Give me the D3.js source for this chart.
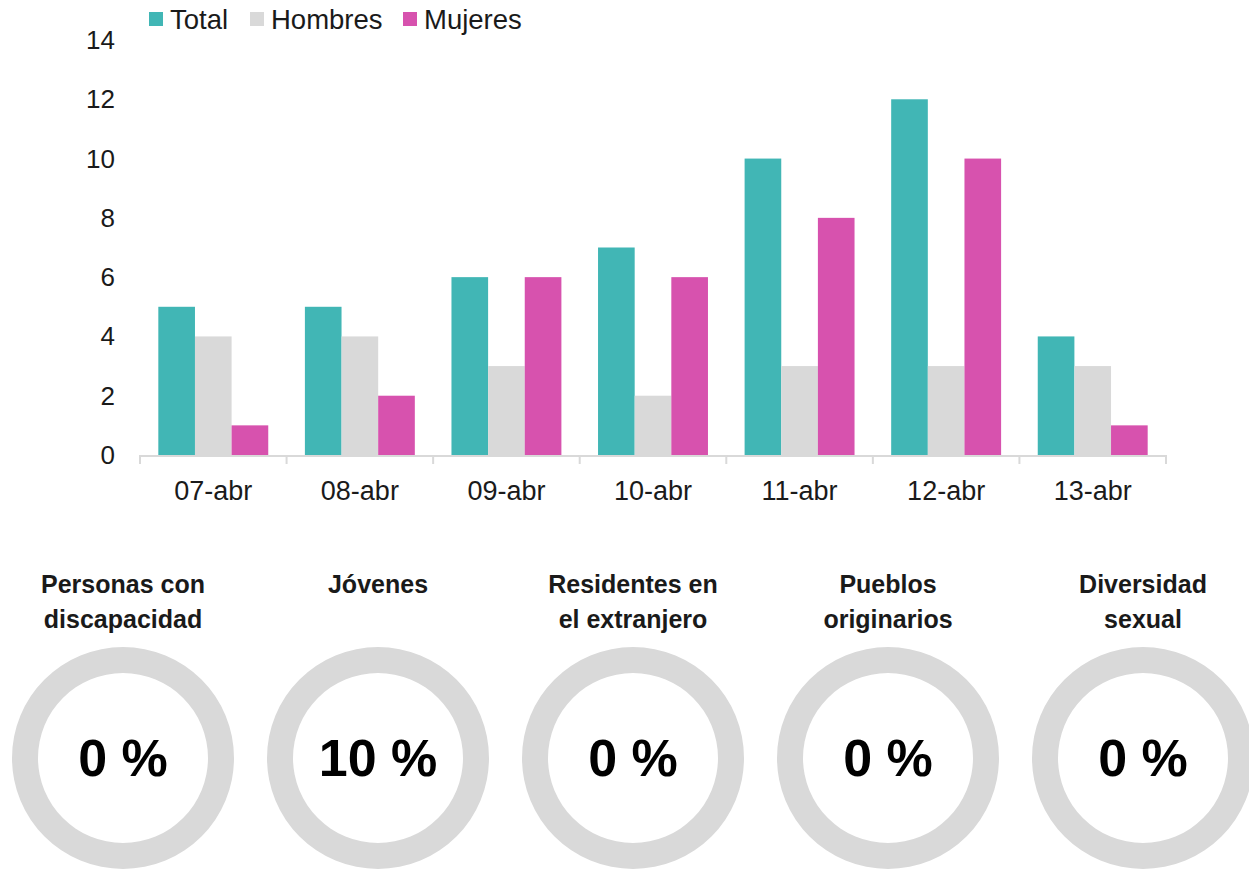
<!DOCTYPE html>
<html>
<head>
<meta charset="utf-8">
<script src="https://cdn.jsdelivr.net/npm/d3@7"></script>
<style>
  body { margin: 0; background: #fff; }
  svg { display: block; font-family: Arial, "Liberation Sans", sans-serif; }
</style>
</head>
<body>
<div id="chart"></div>
<script>
// datos del gráfico de barras
const days = ['07-abr', '08-abr', '09-abr', '10-abr', '11-abr', '12-abr', '13-abr'];
const seriesNames = ['Total', 'Hombres', 'Mujeres'];
const total = [5, 5, 6, 7, 10, 12, 4];
const hombres = [4, 4, 3, 2, 3, 3, 3];
const mujeres = [1, 2, 6, 6, 8, 10, 1];
const yTicks = [0, 2, 4, 6, 8, 10, 12, 14];

// datos de los anillos
const groups = [['Personas con', 'discapacidad'], ['Jóvenes'], ['Residentes en', 'el extranjero'], ['Pueblos', 'originarios'], ['Diversidad', 'sexual']];
const shares = [0, 10, 0, 0, 0];

const colors = ['#41b6b5', '#d9d9d9', '#d752ae'];
const width = 1249, height = 869;

const svg = d3.select('#chart').append('svg')
  .attr('width', width)
  .attr('height', height);

const x0 = d3.scaleBand().domain(days).range([140, 1166]).paddingInner(0.25).paddingOuter(0.125);
const x1 = d3.scaleBand().domain(seriesNames).range([0, x0.bandwidth()]);
const y = d3.scaleLinear().domain([0, 14]).range([455, 40]);

const values = [total, hombres, mujeres];
const rows = [];
days.forEach((d, i) => seriesNames.forEach((s, j) => rows.push({ day: d, s, j, v: values[j][i] })));

// barras
svg.append('g').selectAll('rect')
  .data(rows)
  .enter().append('rect')
  .attr('x', d => x0(d.day) + x1(d.s))
  .attr('y', d => y(d.v))
  .attr('width', x1.bandwidth())
  .attr('height', d => y(0) - y(d.v))
  .attr('fill', d => colors[d.j]);

// eje x con marcas entre categorías
const step = x0.step();
const xAxis = svg.append('g');
xAxis.append('line')
  .attr('x1', 140).attr('x2', 1166)
  .attr('y1', y(0) + 1).attr('y2', y(0) + 1)
  .attr('stroke', '#d9d9d9').attr('stroke-width', 2);
xAxis.selectAll('line.tick')
  .data(d3.range(days.length + 1))
  .enter().append('line')
  .attr('class', 'tick')
  .attr('x1', i => 140 + i * step).attr('x2', i => 140 + i * step)
  .attr('y1', y(0)).attr('y2', y(0) + 9)
  .attr('stroke', '#d9d9d9').attr('stroke-width', 2);
xAxis.selectAll('text')
  .data(days)
  .enter().append('text')
  .attr('x', d => x0(d) + x0.bandwidth() / 2)
  .attr('y', 500)
  .attr('text-anchor', 'middle')
  .attr('font-size', 27)
  .attr('fill', '#1a1a1a')
  .text(d => d);

// eje y, solo etiquetas
svg.append('g').selectAll('text')
  .data(yTicks)
  .enter().append('text')
  .attr('x', 115)
  .attr('y', d => y(d) + 9)
  .attr('text-anchor', 'end')
  .attr('font-size', 26)
  .attr('fill', '#1a1a1a')
  .text(d => d);

// leyenda
const legendX = [149, 250, 403];
const legend = svg.append('g').selectAll('g')
  .data(seriesNames)
  .enter().append('g')
  .attr('transform', (d, i) => `translate(${legendX[i]},12)`);
legend.append('rect')
  .attr('width', 14).attr('height', 14)
  .attr('fill', (d, i) => colors[i]);
legend.append('text')
  .attr('x', 21).attr('y', 17)
  .attr('font-size', 27.5)
  .attr('fill', '#1a1a1a')
  .text(d => d);

// anillos
const cx = d3.scalePoint().domain(d3.range(groups.length)).range([123, 1143]);
const arc = d3.arc().innerRadius(85).outerRadius(111);
const donut = svg.append('g').selectAll('g')
  .data(groups)
  .enter().append('g')
  .attr('transform', (d, i) => `translate(${cx(i)},758)`);

donut.append('path')
  .attr('d', arc({ startAngle: 0, endAngle: 2 * Math.PI }))
  .attr('fill', '#d9d9d9');
donut.filter((d, i) => shares[i] > 0).append('path')
  .attr('d', (d, i) => arc({ startAngle: 0, endAngle: 2 * Math.PI * shares[i] / 100 }))
  .attr('fill', colors[2]);

donut.append('text')
  .attr('text-anchor', 'middle')
  .attr('y', 18)
  .attr('font-size', 52)
  .attr('font-weight', 700)
  .attr('fill', '#000')
  .text((d, i) => shares[i] + ' %');

donut.append('text')
  .attr('text-anchor', 'middle')
  .attr('font-size', 25)
  .attr('font-weight', 700)
  .attr('fill', '#1a1a1a')
  .selectAll('tspan')
  .data(d => d)
  .enter().append('tspan')
  .attr('x', 0)
  .attr('y', (d, k) => -165 + k * 35)
  .text(d => d);
</script>
</body>
</html>
